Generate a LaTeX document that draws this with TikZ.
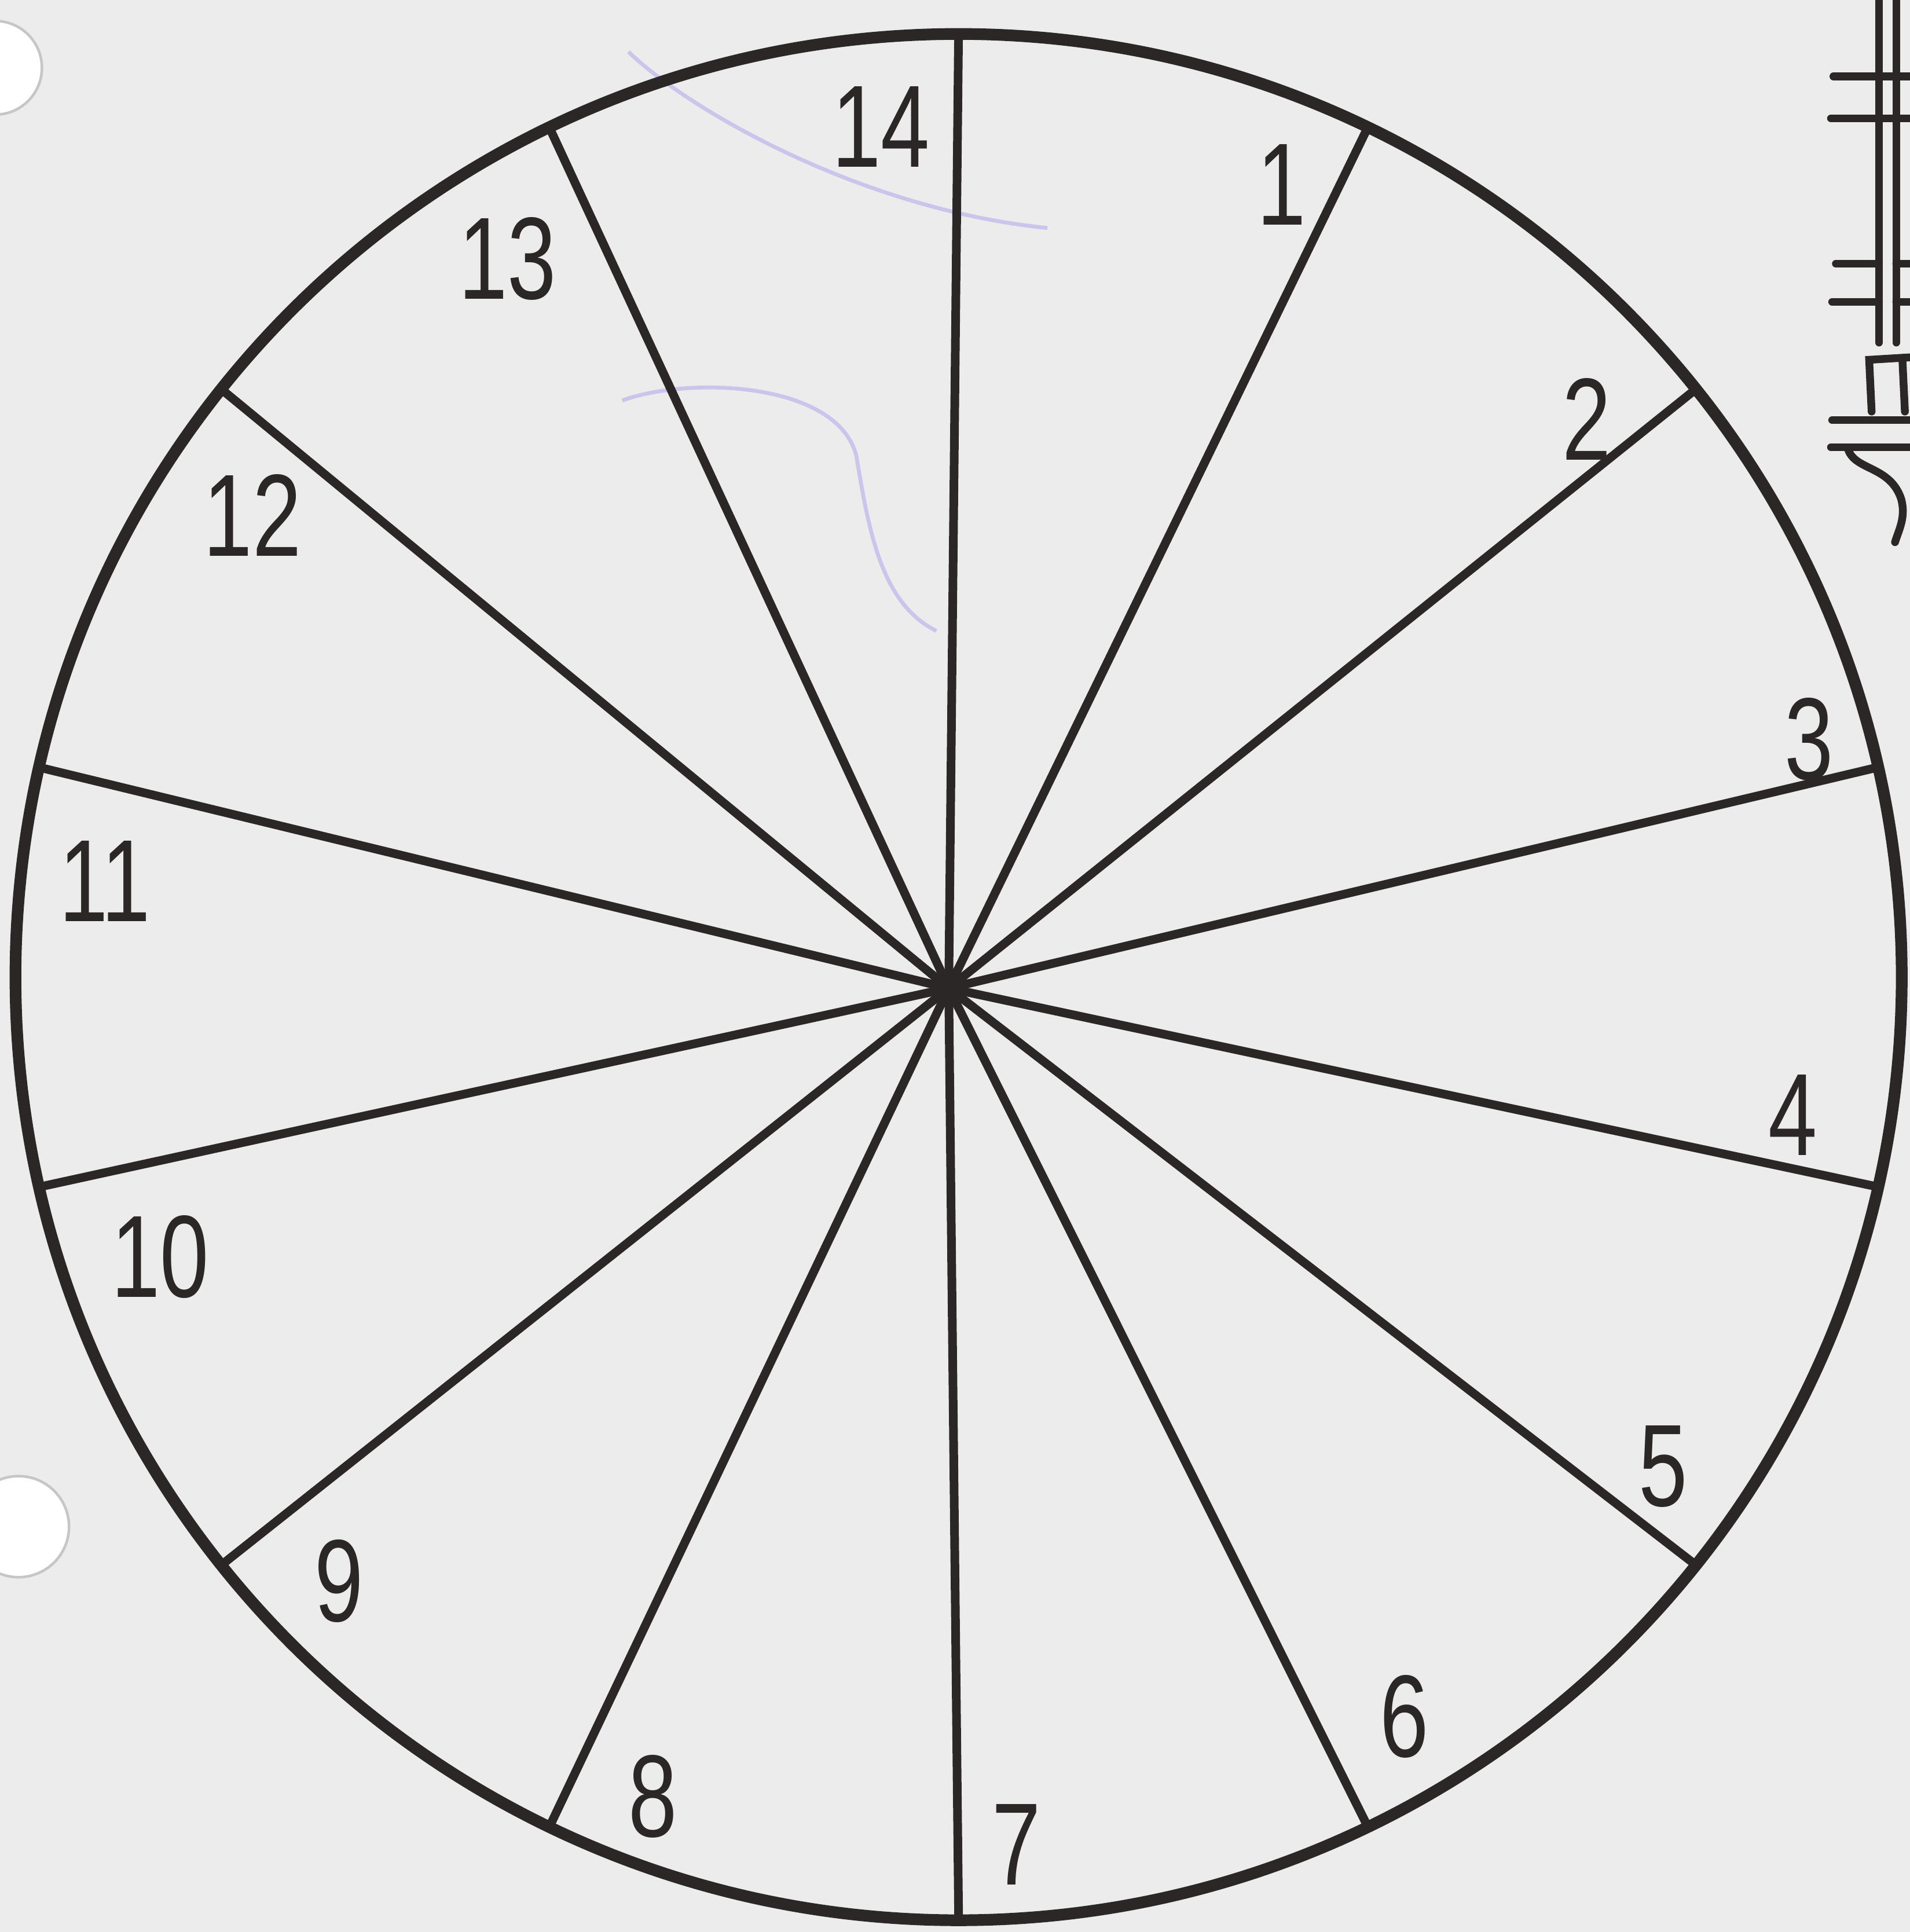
\documentclass[tikz,border=0pt]{standalone}
\usepackage{fontspec}
\setmainfont{Liberation Sans}
\usetikzlibrary{calc}
\definecolor{Ink}{HTML}{2B2727}
\definecolor{Paper}{HTML}{ECECEC}
\definecolor{PenLilac}{HTML}{CBC5EC}
\newcommand{\handnum}[1]{\scalebox{0.75}[1]{#1}}
\tikzset{
  rim/.style={draw=Ink, line width=2.7pt},
  spoke/.style={draw=Ink, line width=2pt, line cap=round},
  numlabel/.style={text=Ink, font=\fontsize{27}{27}\selectfont, inner sep=0pt},
  stray/.style={draw=PenLilac, line width=0.9pt},
  hole/.style={fill=white, draw=gray!45, line width=0.6pt},
  fragline/.style={draw=Ink, line width=1.8pt, line cap=round}
}

\begin{document}
\begin{tikzpicture}[x=0.01cm, y=-0.01cm]
\fill[Paper] (0,0) rectangle (1550,1568);
\useasboundingbox (0,0) rectangle (1550,1568);

% punch holes
\draw[hole] (-4,55) circle[radius=0.38cm];
\draw[hole] (15,1239) circle[radius=0.41cm];

% faint pen marks
\draw[stray] (510,42) .. controls (560,90) and (700,170) .. (850,185);
\draw[stray] (505,325) .. controls (560,305) and (680,310) .. (695,370)
  .. controls (705,430) and (715,490) .. (760,512);

% wheel
\coordinate (O) at (778,793);
\coordinate (H) at (770,802);
\draw[rim] (O) circle[radius=7.65cm];
\foreach \k in {1,...,14}
  \draw[spoke] (H) -- ($(O)+({-90+25.714*\k}:765)$);

% numbers
\foreach \n/\px/\py in {1/1040/150, 2/1288/340, 3/1468/600, 4/1455/905,
    5/1350/1190, 6/1140/1393, 7/825/1497, 8/530/1458, 9/275/1283,
    10/130/1020, 11/85/715, 12/205/418, 13/412/210, 14/715/103}
  \node[numlabel] (num\n) at (\px,\py) {\handnum{\n}};

% edge of the next drawing
\draw[fragline] (1525,0) -- (1525,278);
\draw[fragline] (1539,0) -- (1539,278);
\draw[fragline] (1488,62) -- (1550,62);
\draw[fragline] (1486,96) -- (1550,96);
\draw[fragline] (1490,214) -- (1525,214) (1539,214) -- (1550,214);
\draw[fragline] (1487,245) -- (1525,245) (1539,245) -- (1550,245);
\draw[fragline] (1519,334) -- (1517,292) -- (1550,290);
\draw[fragline] (1544,292) -- (1546,334);
\draw[fragline] (1487,341) -- (1550,341);
\draw[fragline] (1486,363) -- (1550,363);
\draw[fragline] (1500,365) .. controls (1506,382) and (1534,378) .. (1543,405)
  .. controls (1547,420) and (1541,430) .. (1538,440);
\end{tikzpicture}
\end{document}
